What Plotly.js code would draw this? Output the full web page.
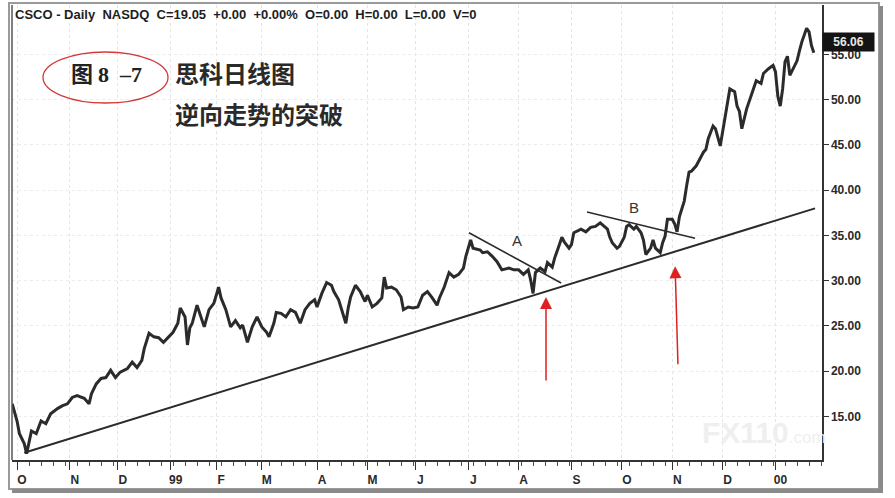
<!DOCTYPE html>
<html>
<head>
<meta charset="utf-8">
<script src="https://cdn.plot.ly/plotly-3.0.1.min.js"></script>
<style>html,body{margin:0;padding:0;background:#fff;}#chart{width:895px;height:498px;}</style>
</head>
<body>
<div id="chart"></div>
<script>
// Trading-day index (0 = first trading day of Oct 1998) and daily price
const dayIndex = [-2,0,1,3,4,5,6,8,10,12,14,17,19,21,23,25,28,30,31,33,35,37,39,41,43,46,48,50,52,53,55,57,59,61,63,65,67,68,70,71,72,73,75,77,78,80,82,84,85,87,89,91,93,94,96,98,100,102,104,105,107,108,110,112,114,116,118,120,122,124,125,127,129,131,132,134,135,137,138,139,141,143,145,146,148,150,152,153,154,156,158,160,161,163,165,167,169,171,173,175,176,178,180,182,184,186,187,189,190,192,193,194,196,198,200,202,205,207,209,211,213,214,215,216,218,220,221,223,224,226,227,228,230,231,232,235,237,239,241,243,244,246,247,248,250,251,253,254,255,257,258,260,261,262,264,265,266,268,269,270,271,273,274,275,276,277,278,279,280,281,283,285,286,287,288,290,291,293,294,295,296,297,299,300,301,302,304,305,307,308,310,311,313,315,316,317,318,319,320,321,322,323,325,326,327,329,330,331,332];
const price = [16.4,14.5,13.1,12.0,10.9,12.0,13.4,13.1,14.5,14.2,15.3,15.9,16.2,16.4,17.1,17.3,17.0,16.4,17.5,18.6,19.2,19.3,20.1,19.3,19.9,20.3,21.0,20.4,21.2,22.5,24.2,23.8,23.7,23.2,23.7,24.3,25.3,27.0,26.0,22.9,24.8,25.3,27.3,25.6,24.9,26.8,27.5,29.3,28.1,26.8,24.9,25.6,24.8,25.1,23.2,24.9,26.0,24.9,24.3,23.8,25.3,26.5,26.4,26.0,26.8,26.5,25.3,26.8,27.5,27.9,27.1,28.6,29.8,29.5,28.8,27.9,27.1,25.3,27.0,28.2,29.5,28.8,27.7,28.4,27.1,27.5,28.1,30.4,29.2,29.3,29.0,28.2,26.8,27.1,27.0,27.1,28.4,28.8,28.1,27.3,28.1,29.3,30.9,30.4,30.7,31.4,32.7,34.5,33.6,33.5,33.4,33.1,33.2,32.7,32.1,31.2,31.4,31.2,31.2,30.7,31.2,30.1,28.6,30.9,31.4,31.0,32.0,31.5,32.5,34.0,34.8,34.3,33.6,34.0,35.3,35.7,35.4,35.9,36.0,36.4,36.2,35.7,34.8,34.2,33.6,33.8,34.8,36.0,36.2,35.7,36.0,35.3,34.5,32.9,33.6,34.5,33.6,33.1,34.2,34.9,36.8,36.8,36.3,35.4,37.1,38.0,38.8,40.5,42.0,42.1,42.7,43.7,44.2,44.5,45.7,47.1,46.8,44.9,46.4,48.2,49.3,51.2,50.9,49.3,48.7,46.8,49.0,49.8,51.5,52.1,51.8,52.9,53.4,53.8,53.1,50.4,49.3,51.2,54.2,54.8,52.7,53.2,54.3,55.4,56.4,57.9,57.5,56.0,55.2];

const monthTickIndex = [0,22,42,64,83,102,125,146,166,188,209,231,252,273,294,316];
const monthTickText = ["O","N","D","99","F","M","A","M","J","J","A","S","O","N","D","00"];
const priceTicks = [15,20,25,30,35,40,45,50,55];
const priceTickText = ["15.00","20.00","25.00","30.00","35.00","40.00","45.00","50.00","55.00"];

const lastPrice = 56.06;
const headerText = "CSCO - Daily  NASDQ  C=19.05  +0.00  +0.00%  O=0.00  H=0.00  L=0.00  V=0";

// Trendlines (index, price)
const mainTrend = {x: [3, 332.5], y: [11.0, 38.0]};
const trendA = {x: [188.3, 226.7], y: [35.3, 29.75]};
const trendB = {x: [237.5, 282.5], y: [37.6, 34.7]};
const arrow1 = {tip: [220.4, 28.2], tail: [220.4, 18.8]};
const arrow2 = {tip: [274.2, 31.6], tail: [275.4, 20.6]};

// pixel helpers for decorations outside data (plot area: x 12..822, y 5..460)
const PL = 12, PR = 822, PT = 5, PB = 460;
const px = p => (p - PL) / (PR - PL);
const py = q => (PB - q) / (PB - PT);

const trace = {
  x: dayIndex, y: price, type: 'scatter', mode: 'lines',
  line: {color: '#2b2b2b', width: 3}, hoverinfo: 'skip', showlegend: false
};

const axFont = {family: 'Liberation Sans, Arial, sans-serif', size: 12, color: '#2a2a2a', weight: 'bold'};

const layout = {
  width: 895, height: 498,
  margin: {l: PL, r: 895 - PR, t: PT, b: 498 - PB},
  paper_bgcolor: '#ffffff', plot_bgcolor: '#ffffff',
  showlegend: false,
  xaxis: {
    range: [-2.1, 335.4], tickmode: 'array', tickvals: monthTickIndex, ticktext: monthTickText,
    ticks: 'outside', ticklen: 8, tickwidth: 1, tickcolor: '#333',
    showline: true, linecolor: '#333', linewidth: 1.5,
    showgrid: true, gridcolor: '#e4e4e4', griddash: 'dot', gridwidth: 1,
    zeroline: false, tickfont: axFont, ticklabelshift: 5,
    minor: {tickmode: 'linear', tick0: 0, dtick: 5, ticks: 'outside', ticklen: 4, tickcolor: '#555', showgrid: false}
  },
  yaxis: {
    side: 'right', range: [10.19, 60.47], tickmode: 'array', tickvals: priceTicks, ticktext: priceTickText,
    ticks: 'outside', ticklen: 5, tickcolor: '#333',
    showline: true, linecolor: '#333', linewidth: 1.5,
    showgrid: true, gridcolor: '#ececec', griddash: 'dot',
    zeroline: false, tickfont: axFont
  },
  shapes: [
    // outer frame
    {type: 'rect', xref: 'paper', yref: 'paper', x0: px(9), x1: px(879), y0: py(489), y1: py(3), line: {color: '#9a9a9a', width: 2}, layer: 'below'},
    {type: 'line', xref: 'paper', yref: 'paper', x0: px(881), x1: px(881), y0: py(492), y1: py(6), line: {color: '#8a8a8a', width: 4}},
    {type: 'line', xref: 'paper', yref: 'paper', x0: px(12), x1: px(883), y0: py(491), y1: py(491), line: {color: '#8a8a8a', width: 4}},
    // plot left edge
    {type: 'line', xref: 'paper', yref: 'paper', x0: 0, x1: 0, y0: 0, y1: 1, line: {color: '#555', width: 1.5}},
    // trendlines
    {type: 'line', xref: 'x', yref: 'y', x0: mainTrend.x[0], x1: mainTrend.x[1], y0: mainTrend.y[0], y1: mainTrend.y[1], line: {color: '#2b2b2b', width: 2}},
    {type: 'line', xref: 'x', yref: 'y', x0: trendA.x[0], x1: trendA.x[1], y0: trendA.y[0], y1: trendA.y[1], line: {color: '#2b2b2b', width: 1.6}},
    {type: 'line', xref: 'x', yref: 'y', x0: trendB.x[0], x1: trendB.x[1], y0: trendB.y[0], y1: trendB.y[1], line: {color: '#2b2b2b', width: 1.6}},
    // red ellipse
    {type: 'circle', xref: 'paper', yref: 'paper', x0: px(43), x1: px(168), y0: py(103), y1: py(52), line: {color: '#d23a3a', width: 1.3}}
  ],
  annotations: [
    {xref: 'paper', yref: 'paper', x: px(13), y: py(14), xanchor: 'left', yanchor: 'middle', showarrow: false,
     text: headerText, font: {family: 'Liberation Sans Narrow, Arial Narrow, Liberation Sans, Arial, sans-serif', size: 13, color: '#1e1e1e', weight: 'bold'}},
    {xref: 'paper', yref: 'paper', x: px(69), y: py(72), xanchor: 'left', yanchor: 'middle', showarrow: false,
     text: '图&nbsp;<span style="font-family:Liberation Serif, serif">8&nbsp;&nbsp;–7</span>', font: {family: 'Noto Sans CJK SC, sans-serif', size: 22, color: '#222', weight: 'bold'}},
    {xref: 'paper', yref: 'paper', x: px(173), y: py(72), xanchor: 'left', yanchor: 'middle', showarrow: false,
     text: '思科日线图', font: {family: 'Noto Sans CJK SC, sans-serif', size: 24, color: '#2a2a2a', weight: 'bold'}},
    {xref: 'paper', yref: 'paper', x: px(173), y: py(113), xanchor: 'left', yanchor: 'middle', showarrow: false,
     text: '逆向走势的突破', font: {family: 'Noto Sans CJK SC, sans-serif', size: 24, color: '#2a2a2a', weight: 'bold'}},
    {xref: 'x', yref: 'y', x: 208.3, y: 34.5, showarrow: false, text: 'A',
     font: {family: 'Liberation Sans, Arial, sans-serif', size: 15, color: '#333'}},
    {xref: 'x', yref: 'y', x: 257, y: 38.1, showarrow: false, text: 'B',
     font: {family: 'Liberation Sans, Arial, sans-serif', size: 15, color: '#333'}},
    {xref: 'x', yref: 'y', axref: 'x', ayref: 'y', x: arrow1.tip[0], y: arrow1.tip[1], ax: arrow1.tail[0], ay: arrow1.tail[1],
     showarrow: true, arrowcolor: '#e02020', arrowwidth: 1.5, arrowhead: 2, arrowsize: 1.6, text: ''},
    {xref: 'x', yref: 'y', axref: 'x', ayref: 'y', x: arrow2.tip[0], y: arrow2.tip[1], ax: arrow2.tail[0], ay: arrow2.tail[1],
     showarrow: true, arrowcolor: '#e02020', arrowwidth: 1.5, arrowhead: 2, arrowsize: 1.6, text: ''},
    {xref: 'paper', yref: 'y', x: 1, y: lastPrice, xanchor: 'left', yanchor: 'middle', xshift: 0, yshift: 3, showarrow: false,
     text: lastPrice.toFixed(2), bgcolor: '#141414', borderpad: 2, width: 47,
     font: {family: 'Liberation Sans, Arial, sans-serif', size: 12, color: '#e8e8e8', weight: 'bold'}},
    {xref: 'paper', yref: 'paper', x: px(700), y: py(432), xanchor: 'left', yanchor: 'middle', showarrow: false,
     text: '<b>FX110</b><span style="font-size:17px">.com</span>',
     font: {family: 'Liberation Sans, Arial, sans-serif', size: 30, color: '#efefef'}}
  ]
};

Plotly.newPlot('chart', [trace], layout, {displayModeBar: false, staticPlot: true});
</script>
</body>
</html>
